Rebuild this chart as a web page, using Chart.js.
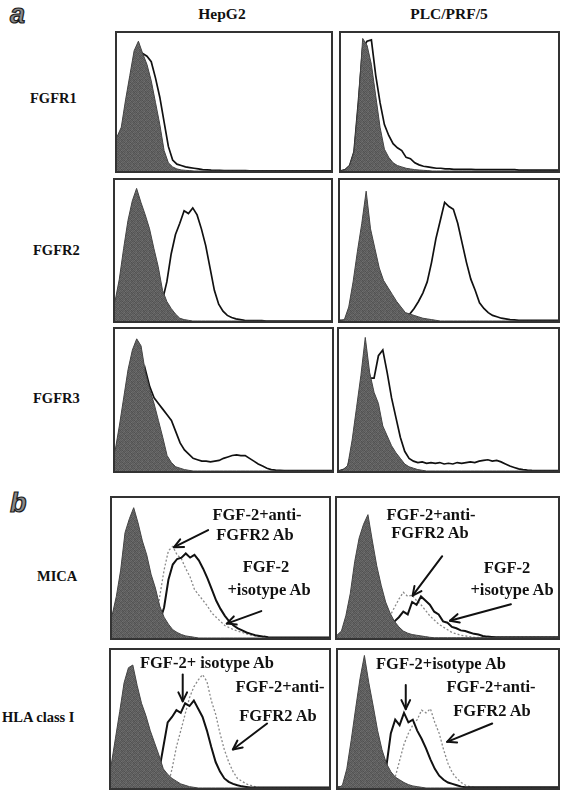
<!DOCTYPE html>
<html><head><meta charset="utf-8">
<script src="https://cdn.jsdelivr.net/npm/chart.js@4.4.1/dist/chart.umd.min.js"></script>
<style>
body{margin:0;width:561px;height:792px;background:#fff;position:relative;overflow:hidden;font-family:"Liberation Serif","Times New Roman",serif;color:#111}
.t{position:absolute;font-weight:bold;white-space:nowrap;line-height:1;transform:translateY(-50%)}
.c{position:absolute;font-weight:bold;white-space:nowrap;line-height:1;transform:translate(-50%,-50%);text-align:center}
.panel{position:absolute;border:2px solid #333;box-sizing:border-box;background:#fff}
.panel canvas{position:absolute;left:0;top:0}
.letter{position:absolute;font-family:"Liberation Sans",Arial,sans-serif;font-style:italic;font-weight:bold;font-size:27px;color:#8a8a8a;-webkit-text-stroke:1.2px #1a1a1a;line-height:1}
.ann{font-size:16.5px}
</style></head><body>
<div class="letter" style="left:10px;top:1px">a</div>
<div class="letter" style="left:10px;top:490px">b</div>
<div class="c" style="left:222px;top:14px;font-size:15.5px">HepG2</div>
<div class="c" style="left:449px;top:14px;font-size:15.5px">PLC/PRF/5</div>
<div class="t" style="left:30px;top:98px;font-size:14.5px">FGFR1</div>
<div class="t" style="left:33px;top:250px;font-size:14.5px">FGFR2</div>
<div class="t" style="left:33px;top:398px;font-size:14.5px">FGFR3</div>
<div class="t" style="left:37px;top:576px;font-size:14.5px">MICA</div>
<div class="t" style="left:2px;top:717px;font-size:14.5px">HLA class I</div>
<div id="panels"></div>
<div class="c ann" style="left:257px;top:515px">FGF-2+anti-</div>
<div class="c ann" style="left:255px;top:535px">FGFR2 Ab</div>
<div class="c ann" style="left:266px;top:567px">FGF-2</div>
<div class="c ann" style="left:269px;top:590px">+isotype Ab</div>
<div class="c ann" style="left:431px;top:515px">FGF-2+anti-</div>
<div class="c ann" style="left:430px;top:533px">FGFR2 Ab</div>
<div class="c ann" style="left:507px;top:568px">FGF-2</div>
<div class="c ann" style="left:512px;top:590px">+isotype Ab</div>
<div class="c ann" style="left:207px;top:663px">FGF-2+ isotype Ab</div>
<div class="c ann" style="left:280px;top:687px">FGF-2+anti-</div>
<div class="c ann" style="left:278px;top:716px">FGFR2 Ab</div>
<div class="c ann" style="left:441px;top:664px">FGF-2+isotype Ab</div>
<div class="c ann" style="left:491px;top:687px">FGF-2+anti-</div>
<div class="c ann" style="left:492px;top:711px">FGFR2 Ab</div>
<script>
// fluorescence channel (% of axis width)
const channels = [0,2,4,6,8,10,12,14,16,18,20,22,24,26,28,30,32,34,36,38,40,42,44,46,48,50,52,54,56,58,60,62,64,66,68,70,72,74,76,78,80,82,84,86,88,90,92,94,96,98,100];

// (a) HepG2 FGFR1
const hepFgfr1Iso = [25,32,52,70,88,95,86,78,66,50, 34,15,6,3,1.5,0.8,0.5,0.3, 0,0,0,0,0,0,0,0,0,0,0,0,0,0,0,0,0,0,0,0,0,0,0,0,0,0,0,0,0,0,0,0,0];
const hepFgfr1Ab  = [0,22,45,65,80,84,86,84,80,68, 54,36,18,8,5,4,3,2.5,2,1.5, 1,0.8,0.6,0.5,0.4,0.3,0.3,0.3,0.3,0.3, 0.3,0.2,0.2,0.2,0.2,0.2,0.2,0.2,0.2,0.2,0.2,0.2,0.2,0.2,0.2,0.2,0.2,0.2,0.2,0.2,0.2];
// (a) PLC/PRF/5 FGFR1
const plcFgfr1Iso = [0,1,4,14,50,97,92,78,55,32, 16,10,6,4,3,2,1.5,1,0.7,0.5, 0.3,0,0,0,0,0,0,0,0,0,0,0,0,0,0,0,0,0,0,0,0,0,0,0,0,0,0,0,0,0,0];
const plcFgfr1Ab  = [0,1,4,14,50,90,95,96,70,50, 34,26,20,17,15,10,9,6,4.5,3.5, 3,2.5,2,2,1.5,1.5,1.2,1.2,1.2,1.2, 1.2,1,1,1,1,1,1,1,1,1, 1,0.7,0.7,0.7,0.7,0.7,0.7,0.7,0.7,0.7, 0.7];
// (a) HepG2 FGFR2
const hepFgfr2Iso = [14,30,52,72,86,95,85,76,66,52, 39,22,14,9,5,2,1,0.5, 0,0,0,0,0,0,0,0,0,0,0,0,0,0,0,0,0,0,0,0,0,0,0,0,0,0,0,0,0,0,0,0,0];
const hepFgfr2Ab  = [1,2,3,4,5,6,7,8,9,10, 12,15,28,48,62,70,79,77,81,76, 66,54,38,22,12,7,4,2.5,1.5,1, 0.5,0.3,0.3,0.3,0.3, 0,0,0,0,0,0,0,0,0,0,0,0,0,0,0,0];
// (a) PLC/PRF/5 FGFR2
const plcFgfr2Iso = [0,1,10,28,50,70,93,66,52,38, 29,24,19,14,10,6,5,4,3,2, 1.5,1,0.5, 0,0,0,0,0,0,0,0,0,0,0,0,0,0,0,0,0,0,0,0,0,0,0,0,0,0,0,0];
const plcFgfr2Ab  = [0.5,0.5,0.5,0.5,0.5,0.5,0.5,0.5,0.5,0.5, 0.5,0.5,0.5,0.5,1,3,5,9,14,20, 28,42,59,72,85,82,80,70,56,42, 30,22,13,9,6,4,3,2,1.5,1, 0.8,0.5,0.5,0.5,0.5,0.5,0.5,0.5,0.5,0.5, 0.5];
// (a) HepG2 FGFR3
const hepFgfr3Iso = [14,32,52,72,86,94,89,70,58,48, 36,24,11,6,3,2,1,0.5, 0,0,0,0,0,0,0,0,0,0,0,0,0,0,0,0,0,0,0,0,0,0,0,0,0,0,0,0,0,0,0,0,0];
const hepFgfr3Ab  = [1,2,3,4,5,6,7,72,60,52, 48,44,40,36,28,20,15,12,9,8, 7,7,6.5,7,7.5,9,10,11,11.5,11, 11,9,7,5,3.5,2,1,0.6,0.4,0.2, 0.2,0.2,0.2,0.2,0.2,0.2,0.2,0.2,0.2,0.2,0.2];
// (a) PLC/PRF/5 FGFR3
const plcFgfr3Iso = [0,1,4,22,45,68,95,70,56,48, 32,25,18,13,9,5,3,2,1,0.5, 0,0,0,0,0,0,0,0,0,0,0,0,0,0,0,0,0,0,0,0,0,0,0,0,0,0,0,0,0,0,0];
const plcFgfr3Ab  = [0,1,3,15,35,60,80,66,66,82, 86,70,52,38,24,14,9,7,6,6.5, 5.5,6,5.5,6,5,5.5,5,6,5.5,6, 6.5,6,7,7.5,8,7,7.5,6.5,5,3.5, 2.5,1.5,1,0.6,0.4,0.3,0.3,0.3,0.3,0.3, 0.3];
// (b) HepG2 MICA
const hepMicaCtrl    = [16,30,49,76,86,94,83,70,60,46, 36,23,15,10,6,4,2.5,1.5,1,0.5, 0,0,0,0,0,0,0,0,0,0,0,0,0,0,0,0,0,0,0,0,0,0,0,0,0,0,0,0,0,0,0];
const hepMicaIsotype = [1,1,1,1,2,2,3,3,4,6, 8,12,22,42,53,57,58,61,58,60, 56,50,43,35,27,21,16,12,9,7, 5.5,4,3,2,1.5,1,0.6,0.3,0.3,0.3, 0.3,0.3,0.3,0.3,0.3,0.3,0.3,0.3,0.3,0.3,0.3];
const hepMicaAntiR2  = [0.5,0.5,0.5,0.5,1,1,2,2,3,5, 10,30,49,63,66,60,57,50,44,35, 31,27,23,18,15,12,9,7.5,6,5, 4,3,2,1.5,1,0.6,0.3,0.3,0.3,0.3, 0.3,0.3,0.3,0.3,0.3,0.3,0.3,0.3,0.3,0.3,0.3];
// (b) PLC/PRF/5 MICA
const plcMicaCtrl    = [2,5,16,32,55,72,82,89,70,52, 38,26,18,12,8,5,3.5,2.5,2,1.5, 1,0.5, 0.2,0.2,0.2,0.2,0.2,0.2,0.2,0.2,0.2,0.2,0.2,0.2,0.2,0.2,0.2,0.2,0.2,0.2,0.2,0.2,0.2,0.2,0.2,0.2,0.2,0.2,0.2,0.2,0.2];
const plcMicaIsotype = [0.5,0.5,0.5,1,1,1,2,2,3,4, 8,10,11,12,15,19,17,26,24,30, 27,24,19,17,12,11,8,7,5.5,5, 4,3,2.5,1.5,1,0.8, 0.5,0.5,0.5,0.5,0.5,0.5,0.5,0.5,0.5,0.5,0.5,0.5,0.5,0.5,0.5];
const plcMicaAntiR2  = [0.5,0.5,0.5,1,1,1,1.5,2,3,5, 8,12,16,22,28,33,30,31,27,24, 20,16,13,10,8,6,4,3,2,1.5, 1, 0.5,0.5,0.5,0.5,0.5,0.5,0.5,0.5,0.5,0.5,0.5,0.5,0.5,0.5,0.5,0.5,0.5,0.5,0.5,0.5];
// (b) HepG2 HLA class I
const hepHlaCtrl    = [16,36,56,77,88,90,75,62,53,42, 33,24,14,10,7,5,3,2,1,0.5, 0,0,0,0,0,0,0,0,0,0,0,0,0,0,0,0,0,0,0,0,0,0,0,0,0,0,0,0,0,0,0];
const hepHlaIsotype = [0.5,0.5,1,1,2,2,3,3,4,6, 8,12,30,48,52,57,55,62,60,64, 58,52,42,30,19,12,7,4.5,3,2, 1.2,0.8, 0.4,0.4,0.4,0.4,0.4,0.4,0.4,0.4,0.4,0.4,0.4,0.4,0.4,0.4,0.4,0.4,0.4,0.4,0.4];
const hepHlaAntiR2  = [0,0,0,0,0,0,0,0,0,0,0,0,0, 1,14,30,42,54,66,74, 79,83,78,64,54,40,28,19,12,7, 5,3,2,1, 0.3,0.3,0.3,0.3,0.3,0.3,0.3,0.3,0.3,0.3,0.3,0.3,0.3,0.3,0.3,0.3,0.3];
// (b) PLC/PRF/5 HLA class I
const plcHlaCtrl    = [0,2,14,35,58,80,97,77,60,42, 28,18,12,8,6,4,2.5,1.5,1,0.5, 0,0,0,0,0,0,0,0,0,0,0,0,0,0,0,0,0,0,0,0,0,0,0,0,0,0,0,0,0,0,0];
const plcHlaIsotype = [0.5,0.5,0.5,1,1,2,2,3,4,6, 8,16,40,50,46,55,48,50,42,36, 29,21,14,9,6,4,3,2,1, 0.5,0.5,0.5,0.5,0.5,0.5,0.5,0.5,0.5,0.5,0.5,0.5,0.5,0.5,0.5,0.5,0.5,0.5,0.5,0.5,0.5,0.5];
const plcHlaAntiR2  = [0,0,0,0,0,0,0,0,0,0,0,0, 1,8,20,32,40,46,50,57, 55,58,48,40,28,18,11,7,4,2, 1, 0.3,0.3,0.3,0.3,0.3,0.3,0.3,0.3,0.3,0.3,0.3,0.3,0.3,0.3,0.3,0.3,0.3,0.3,0.3,0.3];

// annotation arrows in data units: [xStart, yStart, xEnd, yEnd]
const hepMicaArrows = [[44.3,77.8,28.6,65.5],[68.8,19.4,52.9,10.4]];
const plcMicaArrows = [[47.6,59.0,34.2,30.5],[78.7,24.3,51.1,12.5]];
const hepHlaArrows  = [[32.9,83.1,32.9,63.4],[71.6,47.2,55.9,28.2]];
const plcHlaArrows  = [[30.8,75.4,30.8,57.7],[70.1,47.2,49.6,33.8]];

// speckled grey fill like the printed histograms (fixed tile, not data)
const tileShades = [88,104,94,112,84,100, 98,80,108,90,102,86, 92,110,82,96,88,106, 104,90,100,84,112,94, 84,98,92,106,80,100, 108,86,102,94,96,82];
function makeTile(){
  const c = document.createElement('canvas'); c.width = 6; c.height = 6;
  const g = c.getContext('2d');
  tileShades.forEach((v, i) => { g.fillStyle = `rgb(${v},${v},${v})`; g.fillRect(i % 6, Math.floor(i / 6), 1, 1); });
  return g.createPattern(c, 'repeat');
}
const speckle = makeTile();

const styles = {
  fill:   {borderColor:'#444', borderWidth:1, backgroundColor:speckle, fill:'origin'},
  open:   {borderColor:'#111', borderWidth:1.7, fill:false},
  solid:  {borderColor:'#111', borderWidth:2, fill:false},
  dotted: {borderColor:'#8a8a8a', borderWidth:1.3, borderDash:[2,2], fill:false}
};

const layout = [
  {l:115,t:31, w:218,h:142, s:[[hepFgfr1Iso,'fill'],[hepFgfr1Ab,'open']]},
  {l:339,t:31, w:221,h:142, s:[[plcFgfr1Iso,'fill'],[plcFgfr1Ab,'open']]},
  {l:113,t:178,w:220,h:145, s:[[hepFgfr2Iso,'fill'],[hepFgfr2Ab,'open']]},
  {l:338,t:178,w:222,h:145, s:[[plcFgfr2Iso,'fill'],[plcFgfr2Ab,'open']]},
  {l:113,t:327,w:221,h:146, s:[[hepFgfr3Iso,'fill'],[hepFgfr3Ab,'open']]},
  {l:337,t:327,w:223,h:146, s:[[plcFgfr3Iso,'fill'],[plcFgfr3Ab,'open']]},
  {l:110,t:496,w:221,h:144, s:[[hepMicaCtrl,'fill'],[hepMicaIsotype,'solid'],[hepMicaAntiR2,'dotted']], a:hepMicaArrows},
  {l:335,t:496,w:225,h:144, s:[[plcMicaCtrl,'fill'],[plcMicaIsotype,'solid'],[plcMicaAntiR2,'dotted']], a:plcMicaArrows},
  {l:109,t:648,w:222,h:142, s:[[hepHlaCtrl,'fill'],[hepHlaIsotype,'solid'],[hepHlaAntiR2,'dotted']], a:hepHlaArrows},
  {l:336,t:648,w:224,h:142, s:[[plcHlaCtrl,'fill'],[plcHlaIsotype,'solid'],[plcHlaAntiR2,'dotted']], a:plcHlaArrows}
];

const arrowPlugin = {
  id:'arrows',
  afterDatasetsDraw(chart, args, opts){
    const list = opts.list || [];
    const ctx = chart.ctx, xs = chart.scales.x, ys = chart.scales.y;
    ctx.save();
    ctx.strokeStyle = '#111'; ctx.lineWidth = 2; ctx.lineCap = 'round'; ctx.lineJoin='round';
    list.forEach(a => {
      const x1 = xs.getPixelForValue(a[0]), y1 = ys.getPixelForValue(a[1]);
      const x2 = xs.getPixelForValue(a[2]), y2 = ys.getPixelForValue(a[3]);
      ctx.beginPath(); ctx.moveTo(x1,y1); ctx.lineTo(x2,y2); ctx.stroke();
      const ang = Math.atan2(y2-y1, x2-x1), L = 10, sp = 0.45;
      ctx.beginPath();
      ctx.moveTo(x2 - L*Math.cos(ang-sp), y2 - L*Math.sin(ang-sp));
      ctx.lineTo(x2, y2);
      ctx.lineTo(x2 - L*Math.cos(ang+sp), y2 - L*Math.sin(ang+sp));
      ctx.stroke();
    });
    ctx.restore();
  }
};

const host = document.getElementById('panels');
layout.forEach(p => {
  const div = document.createElement('div');
  div.className = 'panel';
  div.style.left = p.l + 'px'; div.style.top = p.t + 'px';
  div.style.width = p.w + 'px'; div.style.height = p.h + 'px';
  const cv = document.createElement('canvas');
  cv.width = p.w - 4; cv.height = p.h - 4;
  cv.style.width = (p.w - 4) + 'px'; cv.style.height = (p.h - 4) + 'px';
  div.appendChild(cv); host.appendChild(div);
  const datasets = p.s.map(([arr, kind], i) => Object.assign({
    data: channels.map((x, k) => ({x, y: arr[k]})),
    pointRadius: 0, tension: 0, order: i
  }, styles[kind]));
  new Chart(cv, {
    type: 'line',
    data: {datasets},
    options: {
      responsive: false, animation: false, devicePixelRatio: 1,
      layout: {padding: 0},
      scales: {
        x: {type:'linear', min:0, max:100, display:false},
        y: {min:0, max:101, display:false}
      },
      plugins: {legend:{display:false}, tooltip:{enabled:false}, arrows:{list: p.a || []}}
    },
    plugins: [arrowPlugin]
  });
});
</script>
</body></html>
